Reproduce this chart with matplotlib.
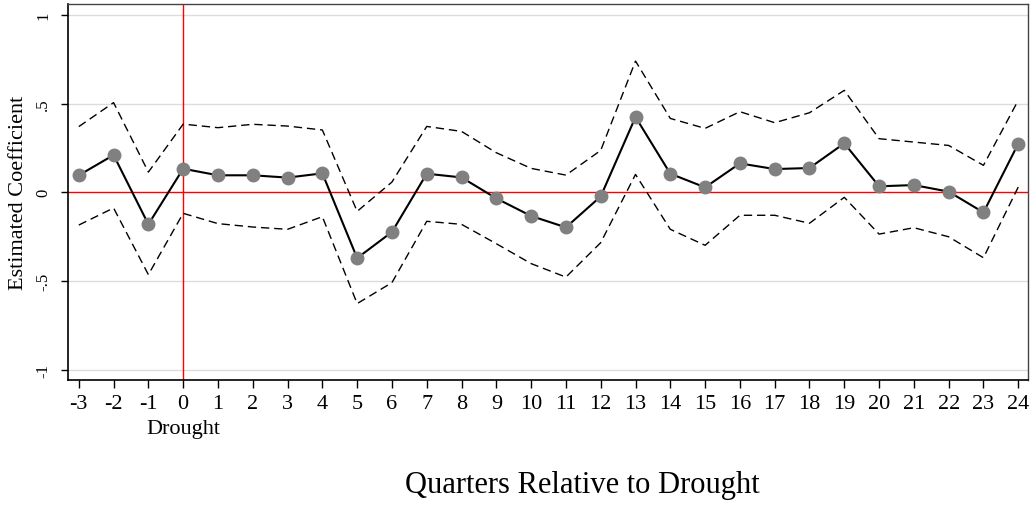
import numpy as np
import matplotlib
matplotlib.use("Agg")
import matplotlib.pyplot as plt
from matplotlib.transforms import blended_transform_factory

# event-study estimates by quarter relative to drought
quarters = list(range(-3, 25))
coef = [0.096, 0.210, -0.180, 0.133, 0.096, 0.096, 0.083, 0.107,
        -0.370, -0.223, 0.105, 0.084, -0.034, -0.133, -0.197, -0.023,
        0.424, 0.105, 0.028, 0.163, 0.131, 0.137, 0.276, 0.034,
        0.041, 0.004, -0.113, 0.274]
ci_upper = [0.370, 0.505, 0.114, 0.384, 0.364, 0.383, 0.373, 0.351,
            -0.107, 0.058, 0.371, 0.343, 0.223, 0.135, 0.097, 0.236,
            0.739, 0.416, 0.360, 0.454, 0.392, 0.448, 0.574, 0.302,
            0.283, 0.264, 0.152, 0.518]
ci_lower = [-0.184, -0.088, -0.463, -0.118, -0.176, -0.195, -0.208, -0.137,
            -0.626, -0.508, -0.163, -0.180, -0.289, -0.401, -0.477, -0.283,
            0.101, -0.208, -0.298, -0.129, -0.129, -0.174, -0.028, -0.235,
            -0.199, -0.250, -0.368, 0.030]
ytick_vals = [-1, -0.5, 0, 0.5, 1]
ytick_labels = ["-1", "-.5", "0", ".5", "1"]
xtick_labels = [str(q) for q in quarters]
event_quarter = 0
event_label = "Drought"

plt.rcParams["font.family"] = ["Liberation Serif", "DejaVu Serif"]

W, H, DPI = 1034, 506, 100
fig = plt.figure(figsize=(W / DPI, H / DPI), dpi=DPI, facecolor="white")
ax = fig.add_axes([68 / W, 1 - 381 / H, (1028 - 68) / W, (381 - 5) / H])

# grid and reference lines
for y in (-1, -0.5, 0.5, 1):
    ax.axhline(y, color="#dcdcdc", lw=1.0, zorder=0)
ax.axhline(0, color="red", lw=1.0, zorder=1)
ax.axvline(event_quarter, color="red", lw=1.0, zorder=1)

ax.plot(quarters, ci_upper, color="black", lw=1.0, ls=(0, (6, 3.5)), zorder=2)
ax.plot(quarters, ci_lower, color="black", lw=1.0, ls=(0, (6, 3.5)), zorder=2)
ax.plot(quarters, coef, color="black", lw=1.5, zorder=3,
        marker="o", markersize=9, markerfacecolor="#808080",
        markeredgecolor="#808080")

ax.set_xlim(-3.31, 24.28)
ax.set_ylim(-1.056, 1.06)

ax.set_xticks(quarters)
ax.set_xticklabels(xtick_labels, fontsize=16)
ax.set_yticks(ytick_vals)
ax.set_yticklabels(ytick_labels, fontsize=12, rotation=90, va="center")
ax.tick_params(axis="x", length=6, width=1, pad=4)
ax.tick_params(axis="y", length=5, width=1, pad=7)

for side in ("left", "bottom"):
    ax.spines[side].set_color("black")
    ax.spines[side].set_linewidth(1.2)
for side in ("top", "right"):
    ax.spines[side].set_color("#444444")
    ax.spines[side].set_linewidth(1.0)

# second line under the event quarter's tick label
trans = blended_transform_factory(ax.transData, fig.transFigure)
ax.text(event_quarter, 1 - 434 / H, event_label, transform=trans,
        ha="center", va="baseline", fontsize=16, clip_on=False)

fig.text(19 / W, 1 - 193 / H, "Estimated Coefficient", rotation=90,
         ha="center", va="center", fontsize=16)
fig.text(582 / W, 1 - 493 / H, "Quarters Relative to Drought",
         ha="center", va="baseline", fontsize=22)

fig.savefig("out.png", dpi=DPI, facecolor="white")
